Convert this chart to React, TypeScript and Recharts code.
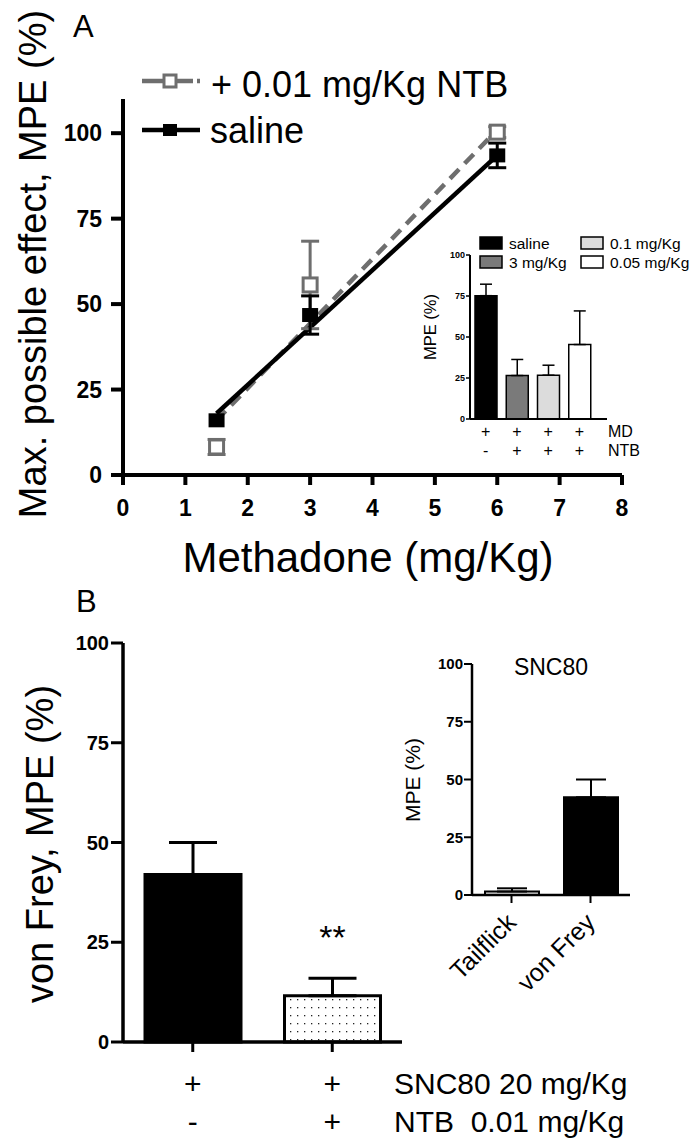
import React from 'react'
import {
  ComposedChart,
  BarChart,
  Bar,
  Line,
  Scatter,
  XAxis,
  YAxis,
  ErrorBar,
  Legend,
  Cell,
  LabelList,
} from 'recharts'

const FONT = '"Liberation Sans", Arial, Helvetica, sans-serif'
const GREY = '#6e6e6e'

// ---- panel A: methadone dose-response ----
const methadoneDoses = [1.5, 3, 6]
const salineMpe = [16, 46.8, 93.5]
const salineSem = [0, 5.6, 3.6]
const ntbMpe = [8.2, 55.6, 100.3]
const ntbSem = [2.2, 12.8, 1.6]
// regression lines, end points
const fitDoses = [1.5, 6]
const salineFit = [18, 93.5]
const ntbFit = [16, 101]
const doseTicks = [0, 1, 2, 3, 4, 5, 6, 7, 8]
const mpeTicks = [0, 25, 50, 75, 100]
const seriesNames = ['+ 0.01 mg/Kg NTB', 'saline']

// ---- inset A ----
const insetGroups = ['saline', '3 mg/Kg', '0.1 mg/Kg', '0.05 mg/Kg']
const insetMpe = [75.2, 26.5, 26.7, 45.4]
const insetSem = [7, 9.8, 6.1, 20.5]
const insetFills = ['#000000', '#7a7a7a', '#dcdcdc', '#ffffff']
const insetMdRow = ['+', '+', '+', '+']
const insetNtbRow = ['-', '+', '+', '+']
const insetRowNames = ['MD', 'NTB']

// ---- panel B ----
const sncGroups = ['SNC80', 'SNC80 + NTB']
const sncMpe = [42, 11.6]
const sncSem = [8, 4.4]
const sncFills = ['#000000', 'url(#dotFill)']
const sncRow = ['+', '+']
const sncNtbRow = ['-', '+']
const sncSig = ['', '**']
const sncRowNames = ['SNC80 20 mg/Kg', 'NTB  0.01 mg/Kg']

// ---- inset B ----
const testNames = ['Tailflick', 'von Frey']
const testMpe = [1.5, 42.3]
const testSem = [1.4, 7.7]
const testFills = ['#e4e4e4', '#000000']

const salinePoints = methadoneDoses.map((x, i) => ({ x, y: salineMpe[i], e: salineSem[i] }))
const ntbPoints = methadoneDoses.map((x, i) => ({ x, y: ntbMpe[i], e: ntbSem[i] }))
const salineFitData = fitDoses.map((x, i) => ({ x, y: salineFit[i] }))
const ntbFitData = fitDoses.map((x, i) => ({ x, y: ntbFit[i] }))
const insetData = insetGroups.map((name, i) => ({ name, mpe: insetMpe[i], err: [0, insetSem[i]] }))
const sncData = sncGroups.map((name, i) => ({ name, mpe: sncMpe[i], err: [0, sncSem[i]], sig: sncSig[i] }))
const testData = testNames.map((name, i) => ({ name, mpe: testMpe[i], err: [0, testSem[i]] }))

const txt = (size: number, weight = 400): React.CSSProperties => ({
  fontFamily: FONT,
  fontSize: size,
  fontWeight: weight,
  fill: '#000',
})

const axisStroke = (w: number) => ({ stroke: '#000', strokeWidth: w })

// markers
const FilledSquare = (p: any) => <rect x={p.cx - 8} y={p.cy - 7} width={16} height={14} fill="#000" />
const OpenSquare = (p: any) => (
  <rect x={p.cx - 7} y={p.cy - 7} width={14} height={14} fill="#fff" stroke={GREY} strokeWidth={3} />
)

const LegendA = () => (
  <svg width={560} height={160}>
    <line x1={142} x2={200} y1={81} y2={81} stroke={GREY} strokeWidth={4.5} strokeDasharray="51 4 4" />
    <rect x={164} y={75} width={12} height={12} fill="#fff" stroke={GREY} strokeWidth={3} />
    <text x={211} y={97} style={txt(36)}>{seriesNames[0]}</text>
    <line x1={142} x2={200} y1={130} y2={130} stroke="#000" strokeWidth={4.5} />
    <rect x={163} y={124} width={14} height={12} fill="#000" />
    <text x={210} y={143} style={txt(36)}>{seriesNames[1]}</text>
  </svg>
)

const LegendInsetA = () => {
  const cols = [80, 181]
  const rows = [18, 37]
  return (
    <svg width={296} height={50}>
      {insetGroups.map((g, i) => {
        // column-major like the figure: saline / 3 mg, then 0.1 / 0.05
        const cx = cols[Math.floor(i / 2)]
        const cy = rows[i % 2]
        return (
          <g key={g}>
            <rect x={cx} y={cy - 6} width={22} height={12} fill={insetFills[i]} stroke="#000" strokeWidth={1.5} />
            <text x={cx + 29} y={cy + 5.5} style={txt(15.5)}>
              {g}
            </text>
          </g>
        )
      })}
    </svg>
  )
}

const InsetATick = (p: any) => (
  <g>
    <text x={p.x} y={212} textAnchor="middle" style={txt(16)}>
      {insetMdRow[p.index]}
    </text>
    <text x={p.x} y={231} textAnchor="middle" style={txt(16)}>
      {insetNtbRow[p.index]}
    </text>
  </g>
)

const SncTick = (p: any) => (
  <g>
    <text x={p.x} y={514} textAnchor="middle" style={txt(30)}>
      {sncRow[p.index]}
    </text>
    <text x={p.x} y={552} textAnchor="middle" style={txt(30)}>
      {sncNtbRow[p.index]}
    </text>
  </g>
)

const TestTick = (p: any) => (
  <text
    x={0}
    y={0}
    transform={`translate(${p.x + 6},294) rotate(-45)`}
    textAnchor="end"
    style={txt(25)}
  >
    {p.payload.value}
  </text>
)

const SigLabel = (p: any) => (
  <text x={p.x + p.width / 2} y={p.y - 47} textAnchor="middle" style={txt(34)}>
    {p.value}
  </text>
)

const ChartA = () => (
  <ComposedChart width={696} height={600} margin={{ top: 99, right: 74, bottom: 85, left: 63 }}>
    <text x={73} y={37} style={txt(31)}>
      A
    </text>
    <text transform="translate(46,264) rotate(-90)" textAnchor="middle" style={txt(38)}>
      Max. possible effect, MPE (%)
    </text>
    <text x={368} y={572} textAnchor="middle" style={txt(42)}>
      Methadone (mg/Kg)
    </text>
    <XAxis
      type="number"
      dataKey="x"
      domain={[0, 8]}
      ticks={doseTicks}
      height={40}
      tickSize={10}
      tickMargin={15}
      axisLine={axisStroke(4)}
      tickLine={axisStroke(4)}
      tick={txt(23, 700)}
    />
    <YAxis
      type="number"
      domain={[0, 110]}
      ticks={mpeTicks}
      width={60}
      tickSize={12}
      tickMargin={9}
      axisLine={axisStroke(4)}
      tickLine={axisStroke(4)}
      tick={txt(23, 700)}
    />
    <Line
      data={ntbFitData}
      dataKey="y"
      stroke={GREY}
      strokeWidth={4.5}
      strokeDasharray="13 8"
      dot={false}
      isAnimationActive={false}
    />
    <Line data={salineFitData} dataKey="y" stroke="#000" strokeWidth={4.5} dot={false} isAnimationActive={false} />
    <Scatter data={ntbPoints} dataKey="y" shape={OpenSquare} isAnimationActive={false}>
      <ErrorBar dataKey="e" direction="y" width={9} stroke={GREY} strokeWidth={3} />
    </Scatter>
    <Scatter data={salinePoints} dataKey="y" shape={FilledSquare} isAnimationActive={false}>
      <ErrorBar dataKey="e" direction="y" width={9} stroke="#000" strokeWidth={3} />
    </Scatter>
    <Legend
      layout="vertical"
      align="center"
      verticalAlign="middle"
      content={LegendA}
      wrapperStyle={{ left: 0, top: 0, width: 560, height: 160 }}
    />
  </ComposedChart>
)

const InsetA = () => (
  <BarChart width={296} height={250} data={insetData} margin={{ top: 30, right: 89, bottom: 6, left: 40 }}>
    <text transform="translate(36,102) rotate(-90)" textAnchor="middle" style={txt(16.5)}>
      MPE (%)
    </text>
    <XAxis
      dataKey="name"
      height={50}
      interval={0}
      tickLine={false}
      axisLine={axisStroke(2)}
      padding={{ left: 0, right: 12 }}
      tick={<InsetATick />}
    />
    <YAxis
      domain={[0, 100]}
      ticks={mpeTicks}
      width={30}
      tickSize={4}
      tickMargin={1}
      axisLine={axisStroke(2)}
      tickLine={axisStroke(1.5)}
      tick={txt(9, 700)}
    />
    <Bar dataKey="mpe" barSize={22} stroke="#000" strokeWidth={1.5} isAnimationActive={false}>
      {insetData.map((d, i) => (
        <Cell key={d.name} fill={insetFills[i]} />
      ))}
      <ErrorBar dataKey="err" direction="y" width={6} stroke="#000" strokeWidth={1.5} />
    </Bar>
    <text x={208} y={212} style={txt(16)}>
      {insetRowNames[0]}
    </text>
    <text x={208} y={231} style={txt(16)}>
      {insetRowNames[1]}
    </text>
    <Legend
      layout="vertical"
      align="center"
      verticalAlign="middle"
      content={LegendInsetA}
      wrapperStyle={{ left: 0, top: 0, width: 296, height: 50 }}
    />
  </BarChart>
)

const ChartB = () => (
  <BarChart width={696} height={560} data={sncData} margin={{ top: 63, right: 294, bottom: 8, left: 63 }}>
    <defs>
      <pattern id="dotFill" width={7} height={8} patternUnits="userSpaceOnUse">
        <rect width={7} height={8} fill="#fff" />
        <rect x={3} y={3} width={1.3} height={1.3} fill="#222" />
      </pattern>
    </defs>
    <text x={76} y={32} style={txt(31)}>
      B
    </text>
    <text transform="translate(53,264) rotate(-90)" textAnchor="middle" style={txt(38)}>
      von Frey, MPE (%)
    </text>
    <XAxis
      dataKey="name"
      height={90}
      interval={0}
      tickSize={10}
      tickLine={axisStroke(3)}
      axisLine={axisStroke(3.5)}
      tick={<SncTick />}
    />
    <YAxis
      domain={[0, 100]}
      ticks={mpeTicks}
      width={60}
      tickSize={12}
      tickMargin={2}
      axisLine={axisStroke(3.5)}
      tickLine={axisStroke(3)}
      tick={txt(20, 700)}
    />
    <Bar dataKey="mpe" barSize={96} stroke="#000" strokeWidth={3} isAnimationActive={false}>
      {sncData.map((d, i) => (
        <Cell key={d.name} fill={sncFills[i]} />
      ))}
      <ErrorBar dataKey="err" direction="y" width={24} stroke="#000" strokeWidth={3} />
      <LabelList dataKey="sig" content={SigLabel} />
    </Bar>
    <text x={394} y={514} style={txt(30)}>
      {sncRowNames[0]}
    </text>
    <text x={394} y={552} style={{ ...txt(30), whiteSpace: 'pre' }}>
      {sncRowNames[1]}
    </text>
  </BarChart>
)

const InsetB = () => (
  <BarChart width={296} height={380} data={testData} margin={{ top: 34, right: 66, bottom: 10, left: 42 }}>
    <text x={151} y={45} textAnchor="middle" style={txt(23)}>
      SNC80
    </text>
    <text transform="translate(20,150) rotate(-90)" textAnchor="middle" style={txt(21)}>
      MPE (%)
    </text>
    <XAxis
      dataKey="name"
      height={105}
      interval={0}
      tickSize={8}
      tickLine={axisStroke(2)}
      axisLine={axisStroke(2.5)}
      tick={<TestTick />}
    />
    <YAxis
      domain={[0, 100]}
      ticks={mpeTicks}
      width={30}
      tickSize={8}
      tickMargin={1}
      axisLine={axisStroke(2.5)}
      tickLine={axisStroke(2)}
      tick={txt(15, 700)}
    />
    <Bar dataKey="mpe" barSize={54} stroke="#000" strokeWidth={2} isAnimationActive={false}>
      {testData.map((d, i) => (
        <Cell key={d.name} fill={testFills[i]} />
      ))}
      <ErrorBar dataKey="err" direction="y" width={15} stroke="#000" strokeWidth={2} />
    </Bar>
  </BarChart>
)

export default function App() {
  return (
    <div style={{ position: 'absolute', left: 0, top: 0, width: 696, height: 1140, background: '#fff' }}>
      <div style={{ position: 'absolute', left: 0, top: 0 }}>
        <ChartA />
      </div>
      <div style={{ position: 'absolute', left: 400, top: 225 }}>
        <InsetA />
      </div>
      <div style={{ position: 'absolute', left: 0, top: 580 }}>
        <ChartB />
      </div>
      <div style={{ position: 'absolute', left: 400, top: 630 }}>
        <InsetB />
      </div>
    </div>
  )
}
